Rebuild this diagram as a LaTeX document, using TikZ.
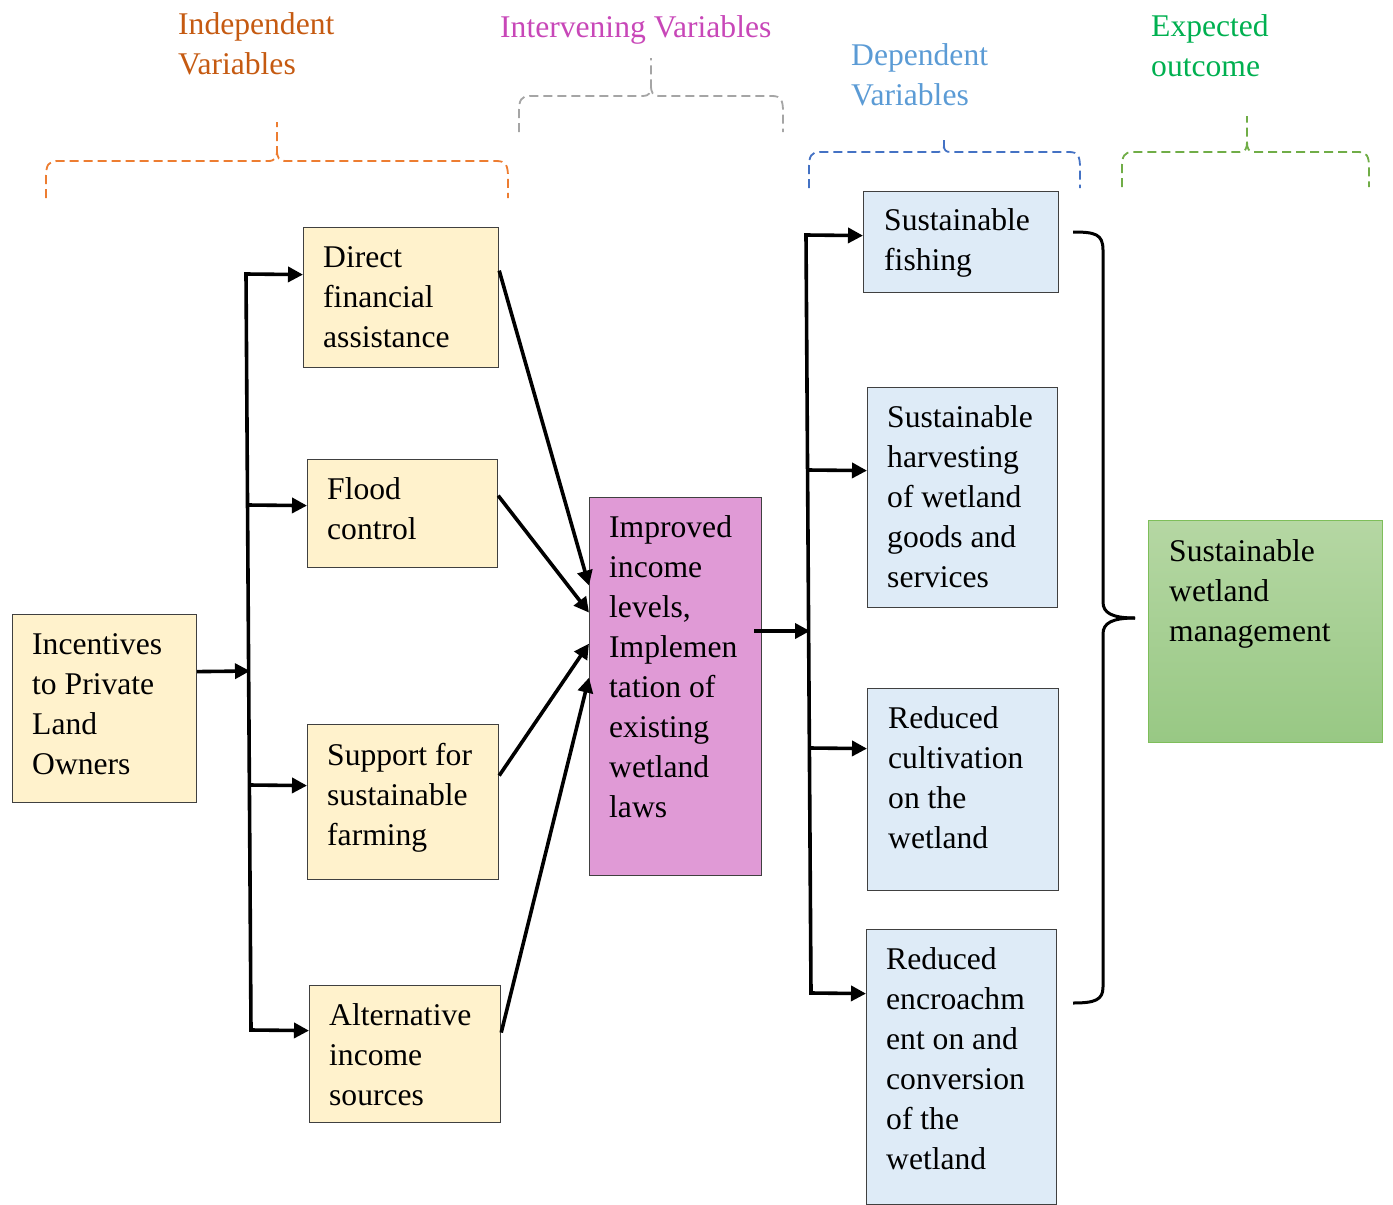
\documentclass[tikz,border=0pt]{standalone}
\usepackage{fontspec}
\setmainfont{Liberation Serif}
\usetikzlibrary{arrows.meta,calc}
\definecolor{ylw}{HTML}{FFF2CC}
\definecolor{pnk}{HTML}{E09AD6}
\definecolor{lblu}{HTML}{DEEBF7}
\definecolor{gtop}{HTML}{B5D7A3}
\definecolor{gbot}{HTML}{98C884}
\definecolor{gbord}{HTML}{7EBE5A}
\definecolor{bord}{HTML}{404040}
\definecolor{orng}{HTML}{C55A11}
\definecolor{orngb}{HTML}{ED7D31}
\definecolor{mag}{HTML}{C847B8}
\definecolor{depb}{HTML}{5B9BD5}
\definecolor{blub}{HTML}{4472C4}
\definecolor{expg}{HTML}{00B050}
\definecolor{grnb}{HTML}{70AD47}
\definecolor{gryb}{HTML}{A5A5A5}
\begin{document}
\begin{tikzpicture}[x=1pt,y=-1pt,
  bx/.style={draw=bord, line width=1.2pt, anchor=north west, inner sep=0pt},
  ybox/.style={bx, fill=ylw},
  pbox/.style={bx, fill=pnk},
  bbox/.style={bx, fill=lblu},
  gbox/.style={bx, draw=gbord, top color=gtop, bottom color=gbot},
  txt/.style={anchor=north west, inner sep=0pt, align=left, font=\fontsize{31.6}{40}\selectfont},
  tip/.tip={Triangle[length=15pt,width=15pt]},
  conn/.style={line width=3.6pt, -tip},
  conn2/.style={line width=3.6pt, tip-tip},
  trunk/.style={line width=3.6pt},
  brc/.style={line width=3pt},
  dbr/.style={line width=1.8pt, dash pattern=on 9pt off 5pt}]
\useasboundingbox (0,0) rectangle (1393,1205);

% headers
\node[txt, text=orng] (hIndep) at (178,6) {\strut Independent\\Variables};
\node[txt, text=mag] (hInterv) at (500,9) {\strut Intervening Variables};
\node[txt, text=depb] (hDep) at (851,37) {\strut Dependent\\Variables};
\node[txt, text=expg] (hExp) at (1151,8) {\strut Expected\\outcome};

% dashed braces
\draw[dbr, draw=orngb] (46,198) -- (46,178) .. controls (46,165) and (48,161) .. (58,161) -- (268,161) .. controls (275,161) and (277,158) .. (277,150) -- (277,122);
\draw[dbr, draw=orngb] (277,150) .. controls (277,158) and (279,161) .. (286,161) -- (496,161) .. controls (506,161) and (508,165) .. (508,178) -- (508,198);
\draw[dbr, draw=gryb] (519,132) -- (519,112) .. controls (519,100) and (521,96) .. (530,96) -- (643,96) .. controls (649,96) and (651,93) .. (651,85) -- (651,58);
\draw[dbr, draw=gryb] (651,85) .. controls (651,93) and (653,96) .. (659,96) -- (772,96) .. controls (781,96) and (783,100) .. (783,112) -- (783,132);
\draw[dbr, draw=blub] (809,188) -- (809,168) .. controls (809,156) and (811,152) .. (820,152) -- (938,152) .. controls (942,152) and (944,150) .. (944,146) -- (944,140);
\draw[dbr, draw=blub] (944,146) .. controls (944,150) and (946,152) .. (950,152) -- (1069,152) .. controls (1078,152) and (1080,156) .. (1080,168) -- (1080,188);
\draw[dbr, draw=grnb] (1122,187) -- (1122,168) .. controls (1122,156) and (1124,152) .. (1133,152) -- (1240,152) .. controls (1245,152) and (1247,149) .. (1247,142) -- (1247,116);
\draw[dbr, draw=grnb] (1247,142) .. controls (1247,149) and (1249,152) .. (1254,152) -- (1358,152) .. controls (1367,152) and (1369,156) .. (1369,168) -- (1369,187);

% boxes
\node[ybox, minimum width=184pt, minimum height=188pt] (inc) at (12,614) {};
\node[ybox, minimum width=195pt, minimum height=140pt] (direct) at (303,227) {};
\node[ybox, minimum width=190pt, minimum height=108pt] (flood) at (307,459) {};
\node[ybox, minimum width=191pt, minimum height=155pt] (supp) at (307,724) {};
\node[ybox, minimum width=191pt, minimum height=137pt] (alt) at (309,985) {};
\node[pbox, minimum width=172pt, minimum height=378pt] (imp) at (589,497) {};
\node[bbox, minimum width=195pt, minimum height=101pt] (fish) at (863,191) {};
\node[bbox, minimum width=190pt, minimum height=220pt] (harv) at (867,387) {};
\node[bbox, minimum width=191pt, minimum height=202pt] (cult) at (867,688) {};
\node[bbox, minimum width=190pt, minimum height=275pt] (encr) at (866,929) {};
\node[gbox, minimum width=234pt, minimum height=222pt] (swm) at (1148,520) {};

% box texts
\node[txt] (incT) at ([shift={(20,12)}]inc.north west) {\strut Incentives\\to Private\\Land\\Owners};
\node[txt] (directT) at ([shift={(20,12)}]direct.north west) {\strut Direct\\financial\\assistance};
\node[txt] (floodT) at ([shift={(20,12)}]flood.north west) {\strut Flood\\control};
\node[txt] (suppT) at ([shift={(20,13)}]supp.north west) {\strut Support for\\sustainable\\farming};
\node[txt] (altT) at ([shift={(20,12)}]alt.north west) {\strut Alternative\\income\\sources};
\node[txt] (impT) at ([shift={(20,12)}]imp.north west) {\strut Improved\\income\\levels,\\Implemen\\tation of\\existing\\wetland\\laws};
\node[txt] (fishT) at ([shift={(21,11)}]fish.north west) {\strut Sustainable\\fishing};
\node[txt] (harvT) at ([shift={(20,12)}]harv.north west) {\strut Sustainable\\harvesting\\of wetland\\goods and\\services};
\node[txt] (cultT) at ([shift={(21,12)}]cult.north west) {\strut Reduced\\cultivation\\on the\\wetland};
\node[txt] (encrT) at ([shift={(20,12)}]encr.north west) {\strut Reduced\\encroachm\\ent on and\\conversion\\of the\\wetland};
\node[txt] (swmT) at ([shift={(21,13)}]swm.north west) {\strut Sustainable\\wetland\\management};

% left trunk
\coordinate (lt) at (246,274);
\coordinate (lb) at (251,1030);
\coordinate (j0) at (250,671);
\draw[conn2] ([yshift=23pt]direct.west) -- (lt) -- (lb) -- ([yshift=23.5pt]alt.west);
\draw[conn] ([yshift=37pt]inc.east) -- (j0);
\draw[conn] (247.5,505) -- ([yshift=8pt]flood.west);
\draw[conn] (249.4,785) -- ([yshift=16.5pt]supp.west);

% into improved
\draw[conn] ([yshift=27pt]direct.east) -- ([yshift=101pt]imp.west);
\draw[conn] ([yshift=18pt]flood.east) -- ([yshift=74pt]imp.west);
\draw[conn] ([yshift=26.5pt]supp.east) -- ([yshift=43pt]imp.west);
\draw[conn] ([yshift=21.5pt]alt.east) -- ([yshift=9pt]imp.west);

% right trunk
\coordinate (rt) at (806,235);
\coordinate (rb) at (811,993);
\coordinate (j1) at (810,631);
\draw[conn2] ([yshift=6.5pt]fish.west) -- (rt) -- (rb) -- ([yshift=73.5pt]encr.west);
\draw[conn] ([shift={(-8,0)}]imp.east |- 0,631) -- (j1);
\draw[conn] (807.8,470) -- ([yshift=27pt]harv.west);
\draw[conn] (809.7,748) -- ([yshift=41pt]cult.west);

% big brace
\draw[brc] (1073,232) .. controls (1095,232) and (1103,234) .. (1103,250) -- (1103,602) .. controls (1103,613) and (1112,618) .. (1135,618);
\draw[brc] (1135,618) .. controls (1112,618) and (1103,623) .. (1103,634) -- (1103,987) .. controls (1103,1000) and (1095,1003) .. (1073,1003);
\end{tikzpicture}
\end{document}
